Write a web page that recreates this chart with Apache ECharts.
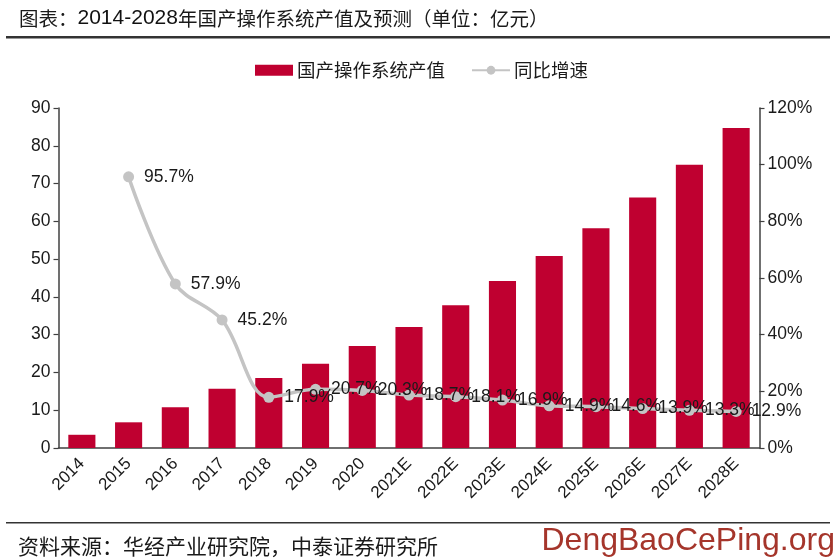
<!DOCTYPE html>
<html><head><meta charset="utf-8">
<style>html,body{margin:0;padding:0;background:#fff}#c{width:834px;height:559px}</style>
<script src="https://cdn.jsdelivr.net/npm/echarts@6/dist/echarts.min.js"></script>
</head><body><div id="c"></div>
<script>
const categories=['2014','2015','2016','2017','2018','2019','2020','2021E','2022E','2023E','2024E','2025E','2026E','2027E','2028E'];
const outputValues=[3.5,6.8,10.8,15.7,18.5,22.3,27,32,37.8,44.2,50.8,58.2,66.3,75,84.7];
const growthRates=[null,95.7,57.9,45.2,17.9,20.7,20.3,18.7,18.1,16.9,14.9,14.6,13.9,13.3,12.9];
const leftTicks=[0,90,10];
const rightTicks=[0,120,20];
const latin='"Liberation Sans",Arial,sans-serif';
const cjk='"Noto Sans CJK SC",sans-serif';
const ink='#1a1a1a';
const chart=echarts.init(document.getElementById('c'),null,{renderer:'canvas'});
chart.setOption({
  animation:false,
  backgroundColor:'#fff',
  title:{text:'{c|图表：}{n|2014-2028}{c|年国产操作系统产值及预测（单位：亿元）}',left:14,top:3,
    textStyle:{fontWeight:'normal',rich:{
      c:{fontFamily:cjk,fontSize:19.5,fontWeight:'normal',color:ink},
      n:{fontFamily:latin,fontSize:21,fontWeight:'normal',color:'#111'}}}},
  legend:{top:56,left:250,itemGap:26,itemHeight:11,itemWidth:38,
    textStyle:{fontFamily:cjk,fontSize:18.5,color:ink,padding:[0,0,0,-1]},
    data:[{name:'国产操作系统产值',icon:'rect'},{name:'同比增速'}]},
  grid:{left:58.5,right:74.5,top:108,bottom:111},
  xAxis:{type:'category',data:categories,
    axisLine:{lineStyle:{color:'#404040',width:1.5}},
    axisTick:{alignWithLabel:false,length:5,lineStyle:{color:'#404040',width:1.2}},
    axisLabel:{rotate:45,fontFamily:latin,fontSize:17,color:ink,margin:13,interval:0}},
  yAxis:[
    {type:'value',min:leftTicks[0],max:leftTicks[1],interval:leftTicks[2],splitLine:{show:false},
      axisLine:{show:true,lineStyle:{color:'#404040',width:1.5}},
      axisTick:{show:true,length:5,lineStyle:{color:'#404040',width:1.2}},
      axisLabel:{fontFamily:latin,fontSize:17.5,color:ink,margin:8}},
    {type:'value',min:rightTicks[0],max:rightTicks[1],interval:rightTicks[2],splitLine:{show:false},
      axisLine:{show:true,lineStyle:{color:'#404040',width:1.5}},
      axisTick:{show:true,length:5,lineStyle:{color:'#404040',width:1.2}},
      axisLabel:{fontFamily:latin,fontSize:17.5,color:ink,margin:8,formatter:'{value}%'}}
  ],
  series:[
    {name:'国产操作系统产值',type:'bar',data:outputValues,barWidth:'58%',yAxisIndex:0,
      itemStyle:{color:'#bf0030'}},
    {name:'同比增速',type:'line',data:growthRates,yAxisIndex:1,smooth:0.35,connectNulls:false,
      symbol:'circle',symbolSize:11,showSymbol:true,
      lineStyle:{color:'#c4c4c4',width:3.5},itemStyle:{color:'#c4c4c4'},
      label:{show:true,position:'right',distance:10,fontFamily:latin,fontSize:17.5,color:ink,
        formatter:p=>p.value==null?'':p.value.toFixed(1)+'%'},labelLayout:{hideOverlap:false}}
  ],
  graphic:[
    {type:'rect',shape:{x:6,y:36,width:824,height:2.6},style:{fill:'#333'},silent:true},
    {type:'rect',shape:{x:6,y:522,width:824,height:1.6},style:{fill:'#333'},silent:true},
    {type:'text',left:18,top:536,style:{text:'资料来源：华经产业研究院，中泰证券研究所',fontFamily:cjk,fontSize:21,fill:ink}},
    {type:'text',right:-1,top:525,style:{text:'DengBaoCePing.org',fontFamily:latin,fontSize:32,fill:'#a5352b'}}
  ]
});
</script></body></html>
